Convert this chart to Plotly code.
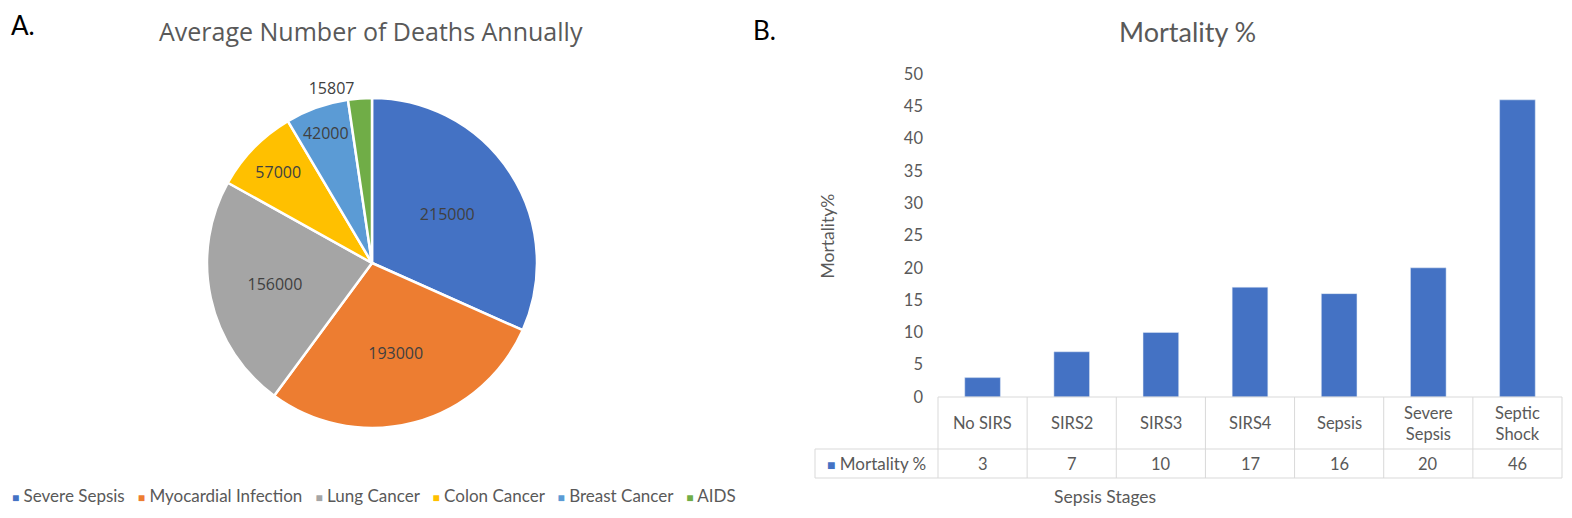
import plotly.graph_objects as go

# ---- Data: Panel A (pie) ----
pie_labels = ["Severe Sepsis", "Myocardial Infection", "Lung Cancer",
              "Colon Cancer", "Breast Cancer", "AIDS"]
pie_values = [215000, 193000, 156000, 57000, 42000, 15807]
pie_colors = ["#4472C4", "#ED7D31", "#A5A5A5", "#FFC000", "#5B9BD5", "#70AD47"]
pie_textpos = ["inside", "inside", "inside", "inside", "inside", "outside"]

# ---- Data: Panel B (bars + data table) ----
stages = ["No SIRS", "SIRS2", "SIRS3", "SIRS4", "Sepsis", "Severe Sepsis", "Septic Shock"]
stage_headers = ["No SIRS", "SIRS2", "SIRS3", "SIRS4", "Sepsis", "Severe<br>Sepsis", "Septic<br>Shock"]
mortality = [3, 7, 10, 17, 16, 20, 46]
series_name = "Mortality %"
y_ticks = [0, 5, 10, 15, 20, 25, 30, 35, 40, 45, 50]

BAR = "#4472C4"
GREY_TXT = "#595959"
GRID = "#D9D9D9"
W, H = 1572, 518

# layout geometry (pixels)
PLOT_L, PLOT_R = 938, 1562          # bar plot area
TABLE_L = 815                       # left edge of legend column of data table
ROW_TOP, ROW_MID, ROW_BOT = 397, 449, 478
PLOT_T = 74
n = len(stages)
col_px = (PLOT_R - PLOT_L) / n
x_left = -0.5 - (PLOT_L - TABLE_L) / col_px      # legend column edge in category units
pad = 2 / col_px

def py(p):
    return 1 - p / H

fig = go.Figure()

fig.add_trace(go.Pie(
    labels=pie_labels, values=pie_values, sort=False, direction="clockwise",
    rotation=0, marker=dict(colors=pie_colors, line=dict(color="white", width=2.5)),
    texttemplate="%{value:d}", textposition=pie_textpos,
    insidetextorientation="horizontal",
    textfont=dict(family="Open Sans", size=16, color="#404040"),
    domain=dict(x=[207 / W, 537 / W], y=[py(428), py(98)]),
    showlegend=False, hoverinfo="label+value"
))

fig.add_trace(go.Bar(
    x=list(range(n)), y=mortality, name=series_name, marker=dict(color=BAR),
    width=0.40, showlegend=False, hovertext=stages, hoverinfo="text+y"
))

shapes = []
line = dict(color=GRID, width=1)
# horizontal table lines
shapes.append(dict(type="line", xref="x", yref="paper", x0=-0.5, x1=n - 0.5,
                   y0=py(ROW_TOP), y1=py(ROW_TOP), line=line))
for yy in (ROW_MID, ROW_BOT):
    shapes.append(dict(type="line", xref="x", yref="paper", x0=x_left, x1=n - 0.5,
                       y0=py(yy), y1=py(yy), line=line))
# vertical table lines
for i in range(n + 1):
    shapes.append(dict(type="line", xref="x", yref="paper", x0=i - 0.5, x1=i - 0.5,
                       y0=py(ROW_BOT), y1=py(ROW_TOP), line=line))
shapes.append(dict(type="line", xref="x", yref="paper", x0=x_left, x1=x_left,
                   y0=py(ROW_BOT), y1=py(ROW_MID), line=line))

TBL_FONT = dict(family="Lato", size=16.5, color=GREY_TXT)
annotations = []
for i, (h, v) in enumerate(zip(stage_headers, mortality)):
    annotations.append(dict(text=h, x=i, xref="x", y=py((ROW_TOP + ROW_MID) / 2),
                            yref="paper", font=TBL_FONT, align="center"))
    annotations.append(dict(text=str(v), x=i, xref="x", y=py((ROW_MID + ROW_BOT) / 2),
                            yref="paper", font=TBL_FONT))
annotations.append(dict(
    text=f"<span style='color:{BAR};font-size:14px'>■</span> {series_name}",
    x=(x_left - 0.5) / 2, xref="x", y=py((ROW_MID + ROW_BOT) / 2), yref="paper",
    font=dict(family="Lato", size=17, color=GREY_TXT)))

legend_txt = "\u00a0\u00a0\u00a0".join(
    f"<span style='color:{c};font-size:12px'>■</span>\u00a0{l}"
    for l, c in zip(pie_labels, pie_colors)
)

annotations += [
    dict(text="A.", x=9 / W, y=py(25), xanchor="left", xref="paper", yref="paper",
         font=dict(family="Lato", size=26, color="black")),
    dict(text="B.", x=751 / W, y=py(30), xanchor="left", xref="paper", yref="paper",
         font=dict(family="Lato", size=26, color="black")),
    dict(text="Average Number of Deaths Annually", x=371 / W, y=py(31),
         xref="paper", yref="paper",
         font=dict(family="Open Sans", size=25, color=GREY_TXT)),
    dict(text="Mortality %", x=1187 / W, y=py(32), xref="paper", yref="paper",
         font=dict(family="Lato", size=27, color=GREY_TXT)),
    dict(text="Mortality%", x=826.5 / W, y=py(236), xref="paper", yref="paper",
         textangle=-90, font=dict(family="Lato", size=17.5, color=GREY_TXT)),
    dict(text="Sepsis Stages", x=1105 / W, y=py(496), xref="paper", yref="paper",
         font=dict(family="Lato", size=17.5, color=GREY_TXT)),
    dict(text=legend_txt, x=10 / W, y=py(495), xanchor="left", xref="paper", yref="paper",
         font=dict(family="Lato", size=17, color=GREY_TXT)),
]
for a in annotations:
    a.setdefault("xanchor", "center")
    a.setdefault("yanchor", "middle")
    a["showarrow"] = False

fig.update_layout(
    width=W, height=H, margin=dict(l=0, r=0, t=0, b=0, autoexpand=False),
    paper_bgcolor="white", plot_bgcolor="white",
    xaxis=dict(domain=[(TABLE_L - 2) / W, (PLOT_R + 2) / W],
               range=[x_left - pad, n - 0.5 + pad],
               showticklabels=False, showgrid=False, zeroline=False, showline=False,
               ticks="", fixedrange=True),
    yaxis=dict(domain=[py(ROW_TOP), py(PLOT_T)], range=[0, 50], tickvals=y_ticks,
               anchor="free", position=PLOT_L / W,
               showgrid=False, zeroline=False, showline=False, ticks="",
               tickfont=dict(family="Lato", size=16.5, color=GREY_TXT),
               ticklabelstandoff=15, fixedrange=True),
    shapes=shapes,
    annotations=annotations,
    font=dict(family="Lato"),
)

fig.write_html("out.html", config={"displayModeBar": False},
               post_script="document.body.style.margin='0px';document.body.style.overflow='hidden';")
